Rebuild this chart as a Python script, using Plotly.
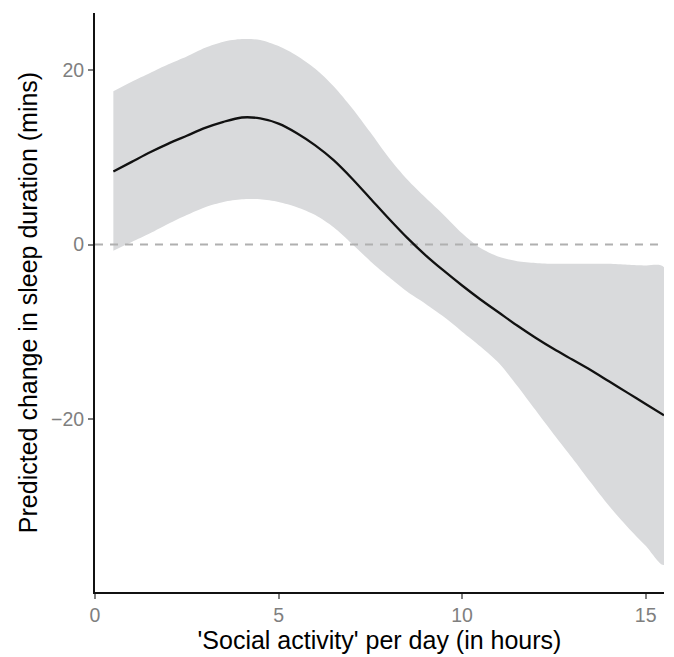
import plotly.graph_objects as go

# Data
x_hours = [0.5, 1.0, 1.5, 2.0, 2.5, 3.0, 3.5, 4.0, 4.5, 5.0, 5.5, 6.0, 6.5, 7.0, 7.5,
           8.0, 8.5, 9.0, 9.5, 10.0, 10.5, 11.0, 11.5, 12.0, 12.5, 13.0, 13.5, 14.0,
           14.5, 15.0, 15.5]
pred_mean = [8.4, 9.5, 10.6, 11.6, 12.5, 13.4, 14.1, 14.6, 14.5, 13.9, 12.8, 11.4, 9.7,
             7.6, 5.3, 3.0, 0.8, -1.2, -3.0, -4.7, -6.3, -7.8, -9.3, -10.7, -12.0,
             -13.2, -14.4, -15.7, -17.0, -18.3, -19.6]
ci_upper = [17.6, 18.7, 19.7, 20.7, 21.6, 22.6, 23.3, 23.6, 23.5, 22.8, 21.7, 20.2, 18.2,
            15.7, 12.9, 10.0, 7.5, 5.4, 3.4, 1.3, -0.4, -1.4, -1.9, -2.1, -2.2, -2.2,
            -2.2, -2.2, -2.3, -2.4, -2.6]
ci_lower = [-0.7, 0.3, 1.3, 2.4, 3.4, 4.3, 4.9, 5.2, 5.2, 4.9, 4.3, 3.4, 2.0, 0.1, -1.9,
            -3.7, -5.4, -6.8, -8.3, -10.0, -11.7, -13.6, -16.2, -19.0, -21.8, -24.5,
            -27.3, -30.0, -32.4, -34.6, -36.8]

x_ticks = [0, 5, 10, 15]
y_ticks = [-20, 0, 20]
x_range = [0, 15.5]
y_range = [-39.9, 26.6]
ref_y = 0

FONT = "Liberation Sans, Arial, Helvetica, sans-serif"

fig = go.Figure()

# Confidence band
fig.add_trace(go.Scatter(
    x=x_hours + x_hours[::-1],
    y=ci_upper + ci_lower[::-1],
    fill="toself", fillcolor="#d9dadc",
    line=dict(width=0, shape="spline", smoothing=0.8),
    mode="lines", hoverinfo="skip", showlegend=False,
))

# Reference line at zero
fig.add_trace(go.Scatter(
    x=x_range, y=[ref_y, ref_y], mode="lines",
    line=dict(color="#b0b0b0", width=2, dash="8px,7px"),
    hoverinfo="skip", showlegend=False,
))

# Predicted mean
fig.add_trace(go.Scatter(
    x=x_hours, y=pred_mean, mode="lines",
    line=dict(color="#111111", width=2.3, shape="spline", smoothing=0.8),
    showlegend=False,
))

fig.update_layout(
    width=674, height=657,
    margin=dict(l=95, r=10, t=13, b=61),
    plot_bgcolor="white", paper_bgcolor="white",
    font=dict(family=FONT, color="black"),
)

fig.update_xaxes(
    range=x_range, tickvals=x_ticks, showgrid=False, zeroline=False,
    showline=True, linecolor="#111111", linewidth=2,
    ticks="outside", ticklen=5, tickwidth=1.5, tickcolor="#7f7f7f",
    tickfont=dict(size=19.5, color="#7f7f7f", family=FONT),
    title=dict(text="'Social activity' per day (in hours)",
               font=dict(size=25, color="black", family=FONT), standoff=3),
)
fig.update_yaxes(
    range=y_range, tickvals=y_ticks, showgrid=False, zeroline=False,
    showline=True, linecolor="#111111", linewidth=2,
    ticks="outside", ticklen=5, tickwidth=1.5, tickcolor="#7f7f7f",
    tickfont=dict(size=19.5, color="#7f7f7f", family=FONT),
    title=dict(text="Predicted change in sleep duration (mins)",
               font=dict(size=25, color="black", family=FONT), standoff=6),
)

fig.write_html("out.html")
